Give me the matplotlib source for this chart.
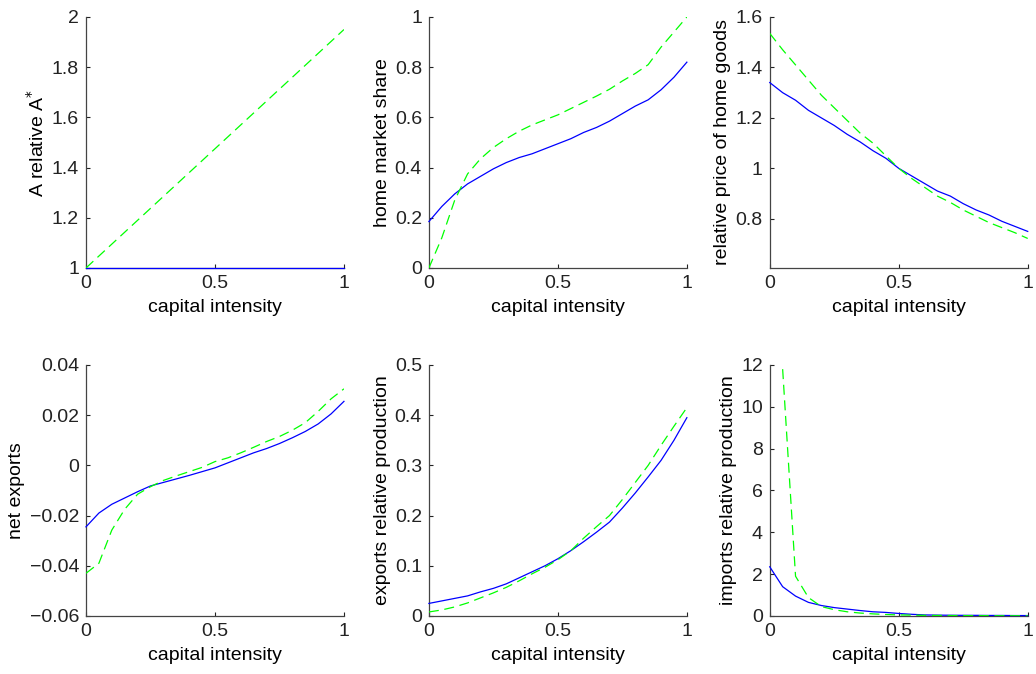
"""Six panels: home vs foreign outcomes against capital intensity."""

import matplotlib

matplotlib.use("Agg")
import matplotlib.pyplot as plt
from matplotlib.ticker import FuncFormatter
import numpy as np


# capital intensity grid (21 points)
capital = [0.00, 0.05, 0.10, 0.15, 0.20, 0.25, 0.30, 0.35, 0.40, 0.45, 0.50,
           0.55, 0.60, 0.65, 0.70, 0.75, 0.80, 0.85, 0.90, 0.95, 1.00]

# A relative A*
a_rel_solid = [1.0] * 21
a_rel_dash = [1.0, 1.0475, 1.095, 1.1425, 1.19, 1.2375, 1.285, 1.3325, 1.38, 1.4275, 1.475,
              1.5225, 1.57, 1.6175, 1.665, 1.7125, 1.76, 1.8075, 1.855, 1.9025, 1.95]

# home market share
share_solid = [0.185, 0.245, 0.295, 0.335, 0.365, 0.395, 0.42, 0.44, 0.455, 0.475, 0.495,
               0.515, 0.54, 0.56, 0.585, 0.615, 0.645, 0.67, 0.71, 0.76, 0.82]
share_dash = [0.0, 0.12, 0.27, 0.375, 0.435, 0.48, 0.515, 0.545, 0.57, 0.59, 0.61,
              0.635, 0.66, 0.685, 0.712, 0.745, 0.775, 0.81, 0.88, 0.94, 1.0]

# relative price of home goods
price_solid = [1.34, 1.30, 1.27, 1.23, 1.20, 1.17, 1.135, 1.105, 1.07, 1.04, 1.0,
               0.97, 0.94, 0.91, 0.89, 0.86, 0.835, 0.815, 0.79, 0.77, 0.75]
price_dash = [1.535, 1.47, 1.41, 1.35, 1.29, 1.24, 1.19, 1.14, 1.10, 1.05, 1.0,
              0.96, 0.925, 0.89, 0.865, 0.835, 0.81, 0.785, 0.765, 0.745, 0.722]

# net exports
netx_solid = [-0.0245, -0.019, -0.0155, -0.013, -0.0105, -0.0082, -0.0068, -0.0054, -0.004,
              -0.0025, -0.001, 0.001, 0.003, 0.005, 0.0067, 0.0087, 0.011, 0.0135, 0.0165,
              0.0205, 0.0255]
netx_dash = [-0.043, -0.039, -0.0258, -0.0175, -0.0115, -0.0085, -0.006, -0.0042, -0.0025,
             -0.0008, 0.0015, 0.003, 0.005, 0.0072, 0.0095, 0.0115, 0.014, 0.017, 0.0215,
             0.0265, 0.0305]

# exports relative production
exp_solid = [0.025, 0.03, 0.035, 0.04, 0.048, 0.055, 0.064, 0.076, 0.088, 0.1, 0.114,
             0.13, 0.148, 0.167, 0.187, 0.215, 0.245, 0.277, 0.31, 0.35, 0.395]
exp_dash = [0.008, 0.012, 0.018, 0.026, 0.036, 0.046, 0.057, 0.07, 0.084, 0.097, 0.112,
            0.13, 0.155, 0.178, 0.2, 0.232, 0.266, 0.3, 0.34, 0.378, 0.415]

# imports relative production
imp_solid = [2.35, 1.4, 0.95, 0.65, 0.5, 0.4, 0.33, 0.26, 0.2, 0.17, 0.12,
             0.08, 0.05, 0.04, 0.035, 0.03, 0.03, 0.025, 0.025, 0.02, 0.02]
imp_dash = [np.nan, 11.8, 1.9, 0.88, 0.45, 0.3, 0.2, 0.14, 0.1, 0.07, 0.05,
            0.04, 0.03, 0.025, 0.02, 0.02, 0.015, 0.015, 0.01, 0.01, 0.01]

paneles = [
    (a_rel_solid, a_rel_dash, "A relative A$^{*}$", (1, 2), [1, 1.2, 1.4, 1.6, 1.8, 2]),
    (share_solid, share_dash, "home market share", (0, 1), [0, 0.2, 0.4, 0.6, 0.8, 1]),
    (price_solid, price_dash, "relative price of home goods", (0.605, 1.6), [0.8, 1, 1.2, 1.4, 1.6]),
    (netx_solid, netx_dash, "net exports", (-0.06, 0.04), [-0.06, -0.04, -0.02, 0, 0.02, 0.04]),
    (exp_solid, exp_dash, "exports relative production", (0, 0.5), [0, 0.1, 0.2, 0.3, 0.4, 0.5]),
    (imp_solid, imp_dash, "imports relative production", (0, 12), [0, 2, 4, 6, 8, 10, 12]),
]

plt.rcParams["font.family"] = ["Liberation Sans", "DejaVu Sans"]

fig = plt.figure(figsize=(10.36, 6.74), dpi=100)
lefts = [0.083, 0.414, 0.743]
bottoms = [0.6024, 0.0861]
ancho, alto = 0.249, 0.3724

fmt = FuncFormatter(lambda v, pos: f"{v:g}".replace("-", "\u2212"))

for i, (solida, discontinua, etiqueta, ylim, yticks) in enumerate(paneles):
    ax = fig.add_axes([lefts[i % 3], bottoms[i // 3], ancho, alto])
    ax.plot(capital, solida, color="#0000ff", lw=0.9, zorder=3, clip_on=False)
    ax.plot(capital, discontinua, color="#00ff00", lw=0.9, ls=(0, (8, 4.5)), zorder=3)
    ax.set_xlim(0, 1)
    ax.set_ylim(*ylim)
    ax.set_xticks([0, 0.5, 1])
    ax.set_yticks(yticks)
    ax.xaxis.set_major_formatter(fmt)
    ax.yaxis.set_major_formatter(fmt)
    ax.tick_params(direction="in", length=3, width=0.8, labelsize=14, colors="#222222", pad=5)
    for lado in ("top", "right"):
        ax.spines[lado].set_visible(False)
    for lado in ("left", "bottom"):
        ax.spines[lado].set_color("#444444")
        ax.spines[lado].set_linewidth(0.9)
    ax.set_xlabel("capital intensity", fontsize=14, labelpad=5)
    ax.set_ylabel(etiqueta, fontsize=14, labelpad=3)

fig.savefig("out.png", dpi=100)
